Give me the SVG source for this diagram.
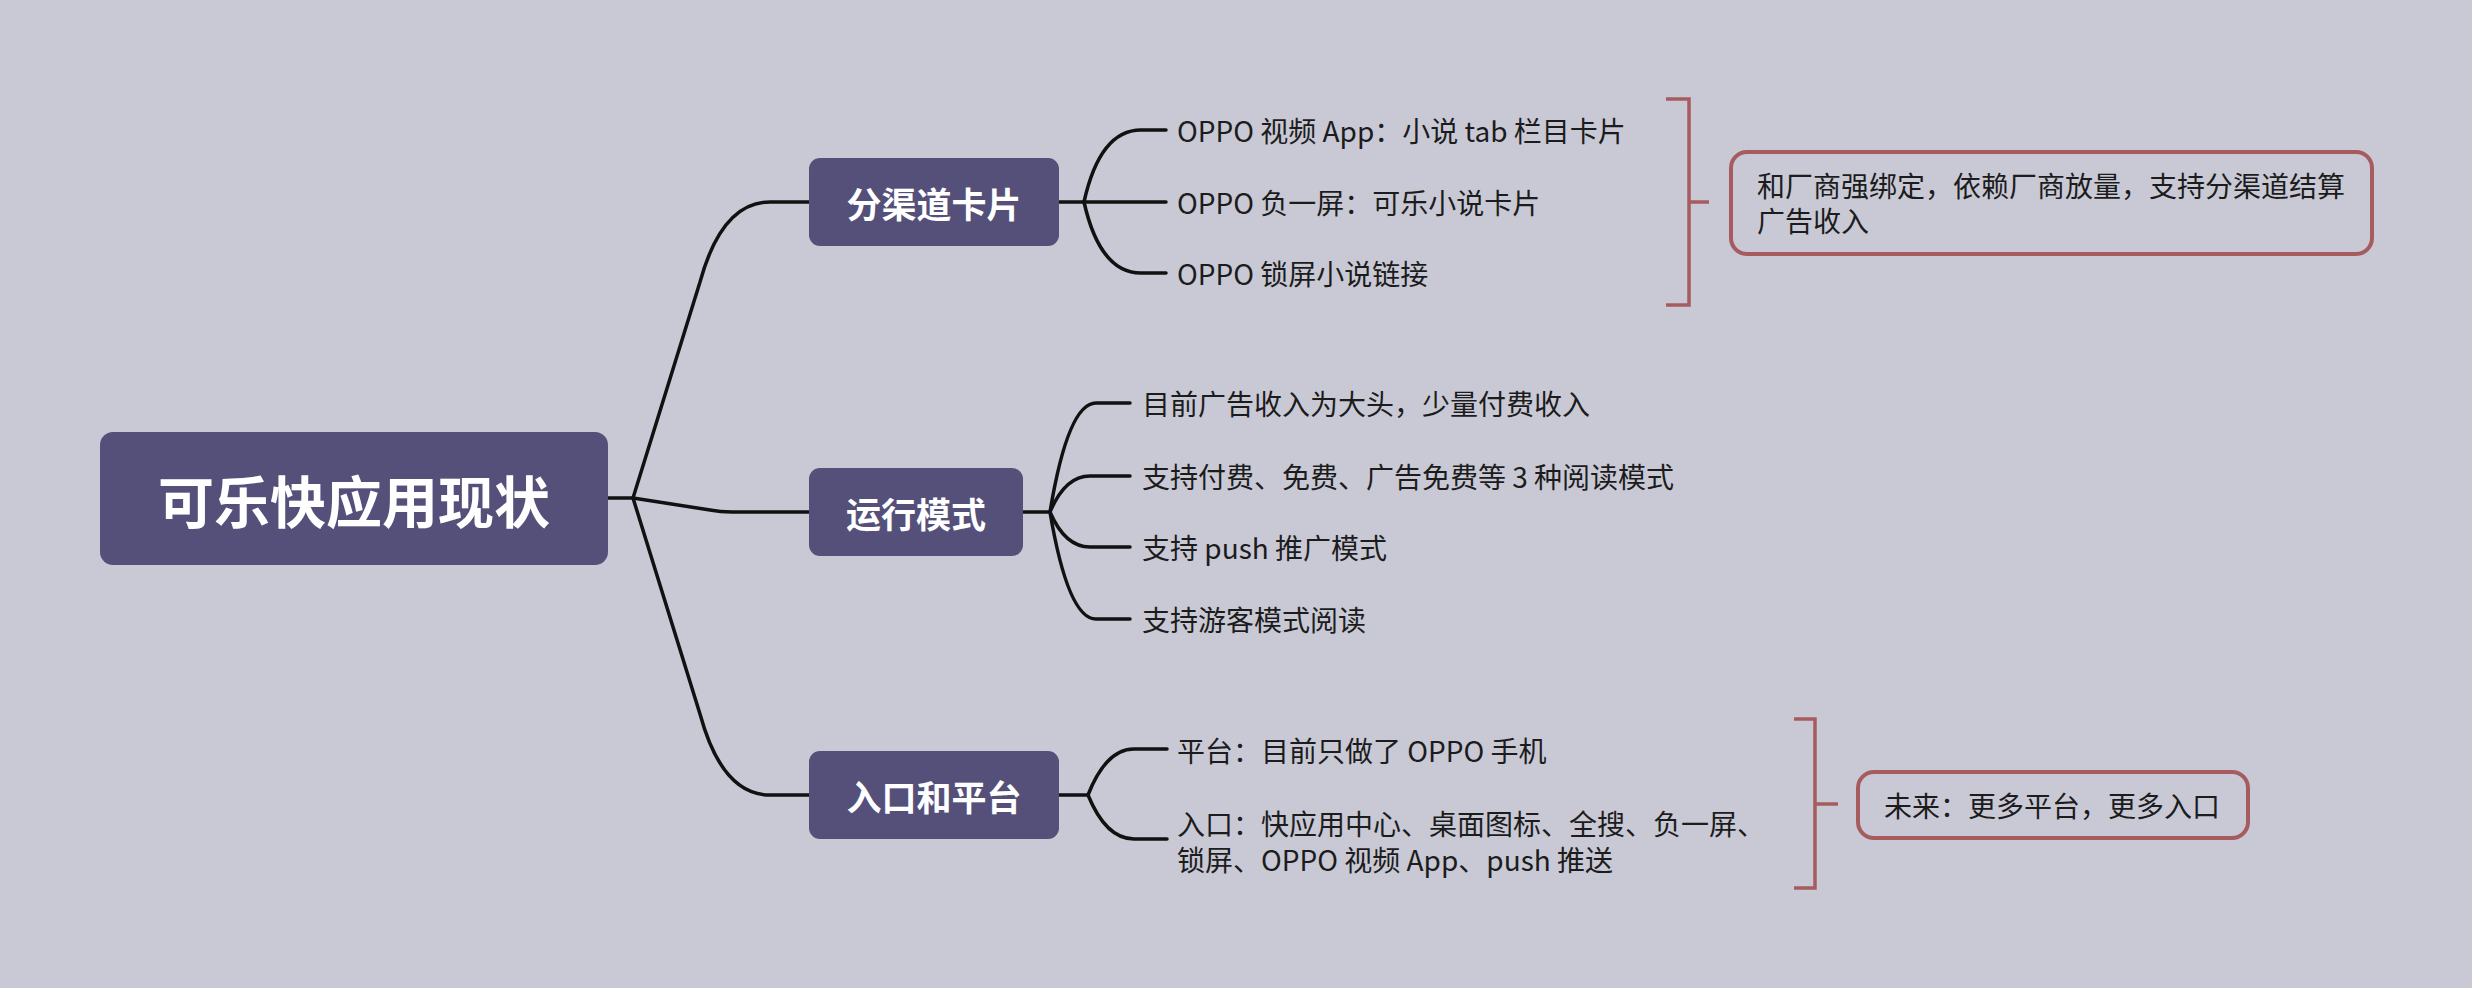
<svg xmlns="http://www.w3.org/2000/svg" width="2472" height="988" viewBox="0 0 2472 988">
<style>
.bg{fill:#c9c9d6}
.node rect{fill:#54507a}
.nt{font-family:"Noto Sans CJK SC","Noto Sans",sans-serif;font-weight:700;fill:#ffffff;text-anchor:middle;dominant-baseline:central}
.t{font-family:"Noto Sans CJK SC","Noto Sans",sans-serif;font-size:28px;fill:#1c1c1c;dominant-baseline:central}
.conn path{fill:none;stroke:#111111;stroke-width:3.5;stroke-linecap:round;stroke-linejoin:round}
.br{fill:none;stroke:#a65b5e;stroke-width:3.5}
.cm{fill:#c9c9d6;stroke:#a65b5e;stroke-width:4}
</style>
<rect class="bg" x="0" y="0" width="2472" height="988"/>
<g id="connectors" class="conn">
<path d="M608,498 L633,498"/>
<path d="M633,498 L700,282 Q722,202 770,202 L809,202"/>
<path d="M633,498 L710,510 Q720,512 732,512 L809,512"/>
<path d="M633,498 L700,714 Q722,795 770,795 L809,795"/>
<path d="M1059,202 L1084,202"/>
<path d="M1084,202 Q1100,130 1141,130 L1166,130"/>
<path d="M1084,202 L1166,202"/>
<path d="M1084,202 Q1100,273 1141,273 L1166,273"/>
<path d="M1023,512 L1050,512"/>
<path d="M1050,512 Q1068,403 1096,403 L1130,403"/>
<path d="M1050,512 Q1065,476 1090,476 L1130,476"/>
<path d="M1050,512 Q1065,547 1090,547 L1130,547"/>
<path d="M1050,512 Q1068,619 1096,619 L1130,619"/>
<path d="M1059,795 L1088,795"/>
<path d="M1088,795 Q1106,749 1134,749 L1167,749"/>
<path d="M1088,795 Q1106,839 1134,839 L1167,839"/>
</g>
<g id="root" class="node">
<rect x="100" y="432" width="508" height="133" rx="13"/>
<text class="nt" x="354" y="498" font-size="56">可乐快应用现状</text>
</g>
<g id="n1" class="node">
<rect x="809" y="158" width="250" height="88" rx="11"/>
<text class="nt" x="934" y="202" font-size="35">分渠道卡片</text>
</g>
<g id="n2" class="node">
<rect x="809" y="468" width="214" height="88" rx="11"/>
<text class="nt" x="916" y="512" font-size="35">运行模式</text>
</g>
<g id="n3" class="node">
<rect x="809" y="751" width="250" height="88" rx="11"/>
<text class="nt" x="934" y="795" font-size="35">入口和平台</text>
</g>
<g id="n1c1"><text class="t" x="1177" y="130">OPPO 视频 App：小说 tab 栏目卡片</text></g>
<g id="n1c2"><text class="t" x="1177" y="202">OPPO 负一屏：可乐小说卡片</text></g>
<g id="n1c3"><text class="t" x="1177" y="273">OPPO 锁屏小说链接</text></g>
<g id="n2c1"><text class="t" x="1142" y="403">目前广告收入为大头，少量付费收入</text></g>
<g id="n2c2"><text class="t" x="1142" y="476">支持付费、免费、广告免费等 3 种阅读模式</text></g>
<g id="n2c3"><text class="t" x="1142" y="547">支持 push 推广模式</text></g>
<g id="n2c4"><text class="t" x="1142" y="619">支持游客模式阅读</text></g>
<g id="n3c1"><text class="t" x="1177" y="750">平台：目前只做了 OPPO 手机</text></g>
<g id="n3c2"><text class="t" x="1177" y="823">入口：快应用中心、桌面图标、全搜、负一屏、</text><text class="t" x="1177" y="859">锁屏、OPPO 视频 App、push 推送</text></g>
<g id="summary1">
<path class="br" d="M1666,99 L1689,99 L1689,305 L1666,305 M1689,202 L1709,202"/>
<rect class="cm" x="1731" y="152" width="641" height="102" rx="16"/>
<text class="t" x="1757" y="185">和厂商强绑定，依赖厂商放量，支持分渠道结算</text>
<text class="t" x="1757" y="220">广告收入</text>
</g>
<g id="summary2">
<path class="br" d="M1794,719 L1815,719 L1815,888 L1794,888 M1815,804 L1838,804"/>
<rect class="cm" x="1858" y="772" width="390" height="66" rx="16"/>
<text class="t" x="1884" y="805">未来：更多平台，更多入口</text>
</g>
</svg>
